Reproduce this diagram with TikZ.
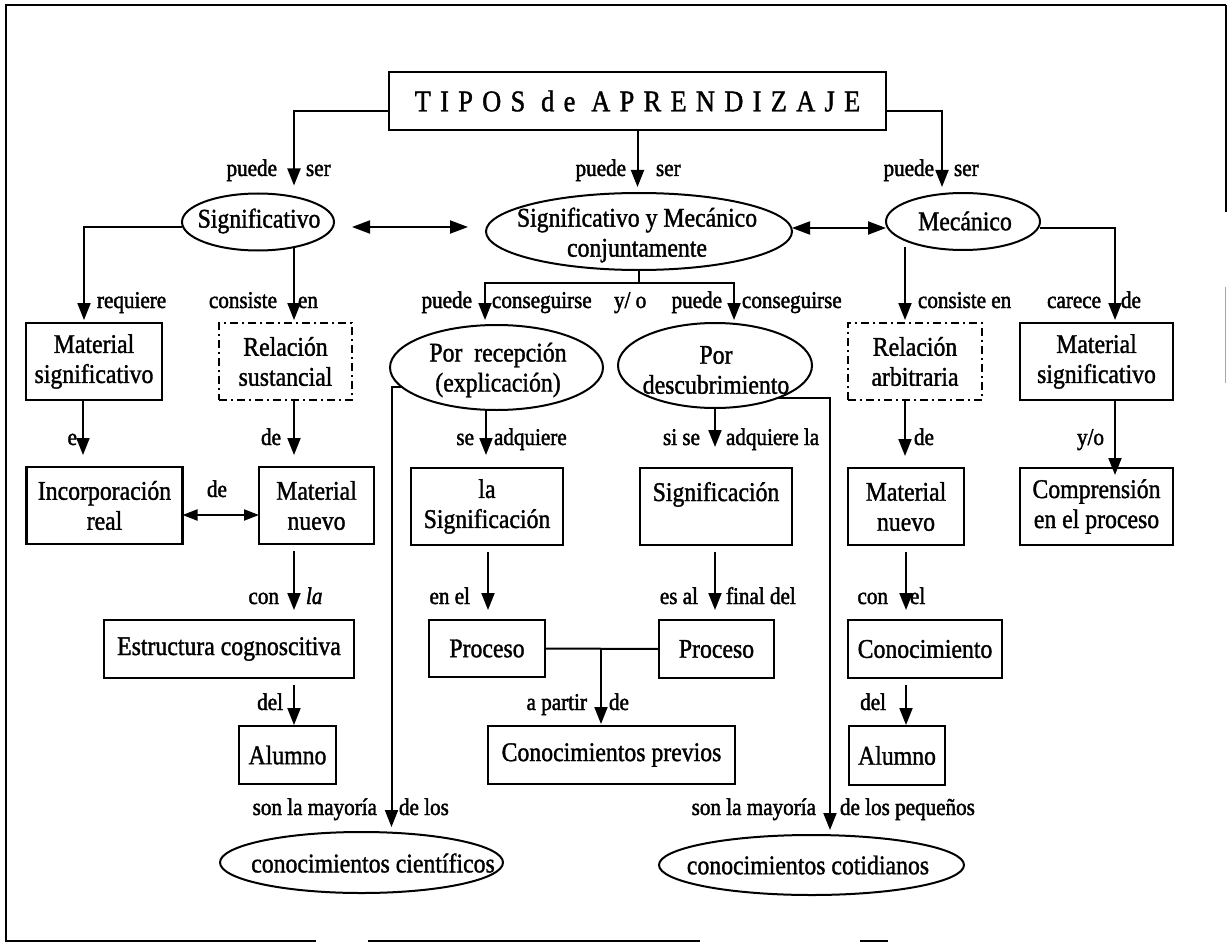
\documentclass[tikz,border=0pt]{standalone}
\usepackage{fontspec}
\setmainfont{Liberation Serif}[FakeStretch=0.88,FakeBold=1.3]
\newfontfamily\lblfont{Liberation Serif}[FakeStretch=0.88,FakeBold=1.8]
\newfontfamily\titlefont{Liberation Serif}[FakeStretch=0.88,FakeBold=1.3,LetterSpace=31]
\usetikzlibrary{shapes.geometric,arrows.meta,calc}

\begin{document}
\begin{tikzpicture}[x=1pt,y=-1pt,
  every node/.style={inner sep=0pt, outer sep=0pt},
  txt/.style={font=\fontsize{27}{30}\selectfont, align=center},
  box/.style 2 args={txt, draw, line width=2.1pt, minimum width=#1, minimum height=#2},
  dbox/.style 2 args={box={#1}{#2}, line width=1.8pt, dash pattern=on 8pt off 4pt on 2pt off 4pt},
  ell/.style 2 args={draw, ellipse, line width=2pt, minimum width=#1, minimum height=#2},
  lbl/.style={font=\lblfont\fontsize{24}{26}\selectfont},
  ln/.style={line width=2pt},
  arr/.style={ln, -{Triangle[length=17pt,width=13pt]}},
  darr/.style={ln, {Triangle[length=18pt,width=13pt]}-{Triangle[length=18pt,width=13pt]}},
  sdarr/.style={ln, {Triangle[length=15pt,width=11pt]}-{Triangle[length=15pt,width=11pt]}}
]
\useasboundingbox (0,0) rectangle (1228,944);

% outer frame (partly faded on the right and bottom)
\draw[line width=2.2pt] (1225.5,5) -- (6,5) -- (6,941) -- (316,941);
\draw[line width=2.2pt] (368,941) -- (700,941);
\draw[line width=2.2pt] (860,941) -- (888,941);
\draw[line width=2pt] (1225.5,5) -- (1225.5,212);
\draw[line width=1.5pt, black!35] (1225.5,287) -- (1225.5,383);

% title
\node[box={497}{58}] (title) at (637.5,101)
  {\titlefont\fontsize{30}{32}\selectfont TIPOS de APRENDIZAJE};

% first level ellipses
\node[ell={152}{57}] (sig) at (258,222) {};
\node[txt] (sigt) at (259,221) {Significativo};
\node[ell={306}{77}] (mix) at (639,231.5) {};
\node[txt] (mixt) at (637,235) {Significativo y Mecánico\\conjuntamente};
\node[ell={154}{57}] (mec) at (963,221.5) {};
\node[txt] (mect) at (965,221) {Mecánico};

% second level
\node[box={136}{77}] (matsigL) at (94,361.5) {Material\\significativo};
\node[dbox={133}{77}] (relsus) at (285.5,361.5) {Relación\\sustancial};
\node[ell={213}{85}] (recep) at (496.5,367.5) {};
\node[txt] (recept) at (498,370) {Por\ \ recepción\\(explicación)};
\node[ell={194}{85}] (descub) at (715,365.5) {};
\node[txt] (descubt) at (716,370) {Por\\descubrimiento};
\node[dbox={134}{77}] (relarb) at (915,361.5) {Relación\\arbitraria};
\node[box={153}{77}] (matsigR) at (1096.5,361.5) {Material\\significativo};

% third level
\node[box={156}{77}] (incorp) at (104.5,505.5) {Incorporación\\real};
\node[box={115}{77}] (matnuevoL) at (316.5,505.5) {Material\\nuevo};
\node[box={152}{77}] (lasig) at (487,506.5) {la\\Significación};
\node[box={152}{77}] (signif) at (716,506.5) {Significación\\\mbox{}};
\node[box={116}{77}] (matnuevoR) at (906,506.5) {Material\\nuevo};
\node[box={153}{77}] (compr) at (1096.5,506.5) {Comprensión\\en el proceso};

% fourth level
\node[box={250}{58}] (estruct) at (229,649) {Estructura cognoscitiva};
\node[box={116}{57}] (procL) at (487,648.5) {Proceso};
\node[box={115}{58}] (procR) at (716.5,649) {Proceso};
\node[box={154}{58}] (conoc) at (925,649) {Conocimiento};

% fifth level
\node[box={97}{58}] (alumL) at (287.5,755) {Alumno};
\node[box={247}{58}] (previos) at (611.5,755) {Conocimientos previos};
\node[box={96}{59}] (alumR) at (897,755.5) {Alumno};

% bottom ellipses
\node[ell={283}{61}] (cient) at (361.5,862.5) {};
\node[txt] (cientt) at (373,863) {conocimientos científicos};
\node[ell={305}{60}] (cotid) at (811.5,865) {};
\node[txt] (cotidt) at (808,865) {conocimientos cotidianos};

% connectors from the title
\draw[arr, shorten >=8pt] ([yshift=-10pt]title.west) -| ([xshift=36pt]sig.north);
\draw[arr, shorten >=6pt] (title.south) -- (title.south |- mix.north);
\draw[arr, shorten >=6pt] ([yshift=-10pt]title.east) -| ([xshift=-21pt]mec.north);

% links between the three kinds
\draw[darr, shorten <=18pt, shorten >=18pt] ([yshift=-5pt]sig.east) -- ([yshift=4.5pt]mix.west);
\draw[darr] ([yshift=3.5pt]mix.east) -- ([yshift=-6.5pt]mec.west);

% from Significativo
\draw[arr, shorten >=3pt] ([yshift=-5pt]sig.west) -| ([xshift=-10pt]matsigL.north);
\draw[arr, shorten >=3pt] ([xshift=36pt,yshift=4pt]sig.south) -- ([xshift=8.5pt]relsus.north);

% from the combined ellipse
\draw[ln] (mix.south) -- ++(0,13) coordinate (mixj);
\draw[arr, shorten >=5pt] (mixj) -| ([xshift=-11.5pt]recep.north);
\draw[arr, shorten >=3pt] (mixj) -| ([xshift=19pt]descub.north);

% from Mecánico
\draw[arr, shorten >=3pt] ([yshift=-6.5pt]mec.east) -| ([xshift=18.5pt]matsigR.north);
\draw[arr, shorten >=3pt] ([xshift=-58pt,yshift=3pt]mec.south) -- ([xshift=-10pt]relarb.north);

% second to third level
\draw[arr, shorten >=12pt] ([xshift=-11pt]matsigL.south) -- ([xshift=-21.5pt]incorp.north);
\draw[arr, shorten >=12pt] ([xshift=8.5pt]relsus.south) -- ([xshift=-22.5pt]matnuevoL.north);
\draw[arr, shorten >=13pt] ([xshift=-10.5pt]recep.south) -- ([xshift=-1pt]lasig.north);
\draw[arr, shorten >=21pt] (descub.south) -- ([xshift=-1pt]signif.north);
\draw[arr, shorten >=12pt] ([xshift=-10pt]relarb.south) -- ([xshift=-1pt]matnuevoR.north);
\draw[arr, shorten >=-7pt] ([xshift=18.5pt]matsigR.south) -- ([xshift=18.5pt]compr.north);
\draw[sdarr] ([yshift=-9.5pt]incorp.east) -- ([yshift=-9.5pt]matnuevoL.west);

% third to fourth level
\draw[arr, shorten <=7pt, shorten >=10pt] ([xshift=-22.5pt]matnuevoL.south) -- ([xshift=65pt]estruct.north);
\draw[arr, shorten <=7pt, shorten >=10pt] ([xshift=1pt]lasig.south) -- ([xshift=1pt]procL.north);
\draw[arr, shorten <=7pt, shorten >=10pt] ([xshift=-1pt]signif.south) -- ([xshift=-1.5pt]procR.north);
\draw[arr, shorten <=7pt, shorten >=10pt] (matnuevoR.south) -- ([xshift=-19pt]conoc.north);

% fourth to fifth level
\draw[arr, shorten <=7pt, shorten >=1pt] ([xshift=65pt]estruct.south) -- ([xshift=6.5pt]alumL.north);
\draw[ln] (procL.east) -- (procR.west);
\draw[arr, shorten >=2pt] ([xshift=-10.5pt]previos.north |- procL.east) -- ([xshift=-10.5pt]previos.north);
\draw[arr, shorten <=7pt, shorten >=1pt] ([xshift=-19pt]conoc.south) -- ([xshift=9pt]alumR.north);

% long links to the bottom ellipses
\draw[arr, shorten >=5pt] (recep.192) -| ([xshift=30pt]cient.north);
\draw[arr, shorten >=5pt] (descub.-28) -| ([xshift=18.5pt]cotid.north);

% connector labels
\node[lbl, anchor=base east] (l01) at (277,176) {puede};
\node[lbl, anchor=base west] (l02) at (306,176) {ser};
\node[lbl, anchor=base east] (l03) at (626,176) {puede};
\node[lbl, anchor=base west] (l04) at (656,176) {ser};
\node[lbl, anchor=base east] (l05) at (934,176) {puede};
\node[lbl, anchor=base west] (l06) at (954,176) {ser};
\node[lbl, anchor=base west] (l07) at (97,308) {requiere};
\node[lbl, anchor=base east] (l08) at (277,308) {consiste};
\node[lbl, anchor=base west] (l09) at (298,308) {en};
\node[lbl, anchor=base east] (l10) at (472,308) {puede};
\node[lbl, anchor=base west] (l11) at (492,308) {conseguirse};
\node[lbl, anchor=base west] (l12) at (614,308) {y/ o};
\node[lbl, anchor=base east] (l13) at (722,308) {puede};
\node[lbl, anchor=base west] (l14) at (742,308) {conseguirse};
\node[lbl, anchor=base west] (l15) at (918,308) {consiste en};
\node[lbl, anchor=base east] (l16) at (1101,308) {carece};
\node[lbl, anchor=base west] (l17) at (1121,308) {de};
\node[lbl, anchor=base east] (l18) at (77,445) {e};
\node[lbl, anchor=base east] (l19) at (281,445) {de};
\node[lbl, anchor=base east] (l20) at (474,445) {se};
\node[lbl, anchor=base west] (l21) at (494,445) {adquiere};
\node[lbl, anchor=base east] (l22) at (700,445) {si se};
\node[lbl, anchor=base west] (l23) at (726,445) {adquiere la};
\node[lbl, anchor=base west] (l24) at (914,445) {de};
\node[lbl, anchor=base west] (l25) at (1077,445) {y/o};
\node[lbl, anchor=base west] (l26) at (207,497) {de};
\node[lbl, anchor=base east] (l27) at (279,604) {con};
\node[lbl, anchor=base west] (l28) at (306,604) {\itshape la};
\node[lbl, anchor=base east] (l29) at (470,604) {en el};
\node[lbl, anchor=base east] (l30) at (698,604) {es al};
\node[lbl, anchor=base west] (l31) at (726,604) {final del};
\node[lbl, anchor=base east] (l32) at (888,604) {con};
\node[lbl, anchor=base west] (l33) at (910,604) {el};
\node[lbl, anchor=base east] (l34) at (283,710) {del};
\node[lbl, anchor=base east] (l35) at (587,710) {a partir};
\node[lbl, anchor=base west] (l36) at (609,710) {de};
\node[lbl, anchor=base east] (l37) at (886,710) {del};
\node[lbl, anchor=base east] (l38) at (377,815) {son la mayoría};
\node[lbl, anchor=base west] (l39) at (399,815) {de los};
\node[lbl, anchor=base east] (l40) at (816,815) {son la mayoría};
\node[lbl, anchor=base west] (l41) at (840,815) {de los pequeños};
\end{tikzpicture}
\end{document}
